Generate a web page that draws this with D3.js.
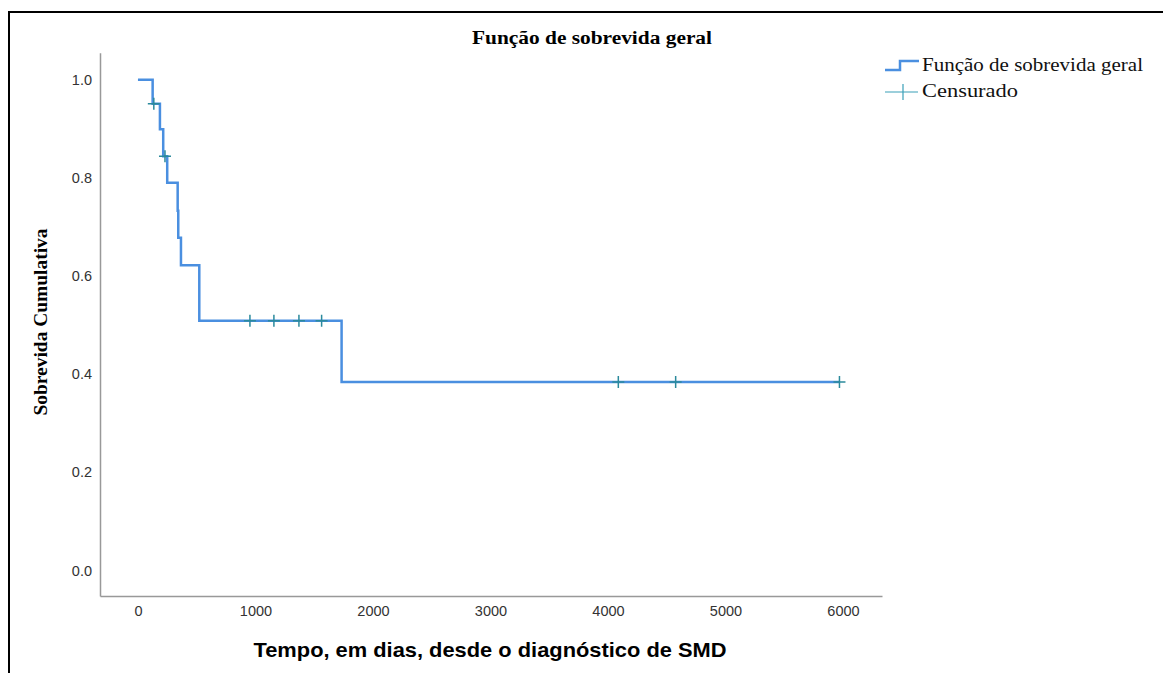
<!DOCTYPE html>
<html>
<head>
<meta charset="utf-8">
<script src="https://cdn.jsdelivr.net/npm/d3@7"></script>
<style>
  body { margin: 0; background: #fff; }
  svg { display: block; }
</style>
</head>
<body>
<svg id="chart" width="1163" height="673"></svg>
<script>
// Kaplan-Meier steps
const eventTimes = [0, 125, 187, 215, 249, 338, 343, 366, 522, 1733];
const survival = [1.0, 0.951, 0.899, 0.844, 0.79, 0.733, 0.678, 0.622, 0.509, 0.384];
const lastTime = 5970;
const censorTimes = [135, 230, 953, 1157, 1370, 1563, 4088, 4576, 5970];
const xTicks = [0, 1000, 2000, 3000, 4000, 5000, 6000];
const yTicks = [0.0, 0.2, 0.4, 0.6, 0.8, 1.0];

const svg = d3.select("#chart");
const lineColor = "#4a8fe0";
const censorColor = "#2b8a9c";
const serif = "'Liberation Serif', 'Times New Roman', serif";
const sans = "'Liberation Sans', Arial, sans-serif";

// frame
svg.append("path")
  .attr("d", "M9,673 L9,12 L1163,12")
  .attr("fill", "none")
  .attr("stroke", "#000")
  .attr("stroke-width", 2);

const x = d3.scaleLinear().domain([-323, 6332]).range([100, 882]);
const y = d3.scaleLinear().domain([-0.052, 1.055]).range([596, 52.7]);

const xAxis = svg.append("g")
  .attr("transform", "translate(0,596)")
  .call(d3.axisBottom(x).tickValues(xTicks).tickSize(0).tickPadding(10).tickFormat(d3.format("d")));
const yAxis = svg.append("g")
  .attr("transform", "translate(100,0)")
  .call(d3.axisLeft(y).tickValues(yTicks).tickSize(0).tickPadding(8).tickFormat(d3.format(".1f")));

[xAxis, yAxis].forEach((g) => {
  g.select(".domain").attr("stroke", "#999").attr("stroke-width", 1.5);
  g.selectAll("text")
    .attr("fill", "#333")
    .style("font-family", sans)
    .style("font-size", "14.5px");
});

// step curve
const pts = eventTimes.map((t, i) => [t, survival[i]]);
pts.push([lastTime, survival[survival.length - 1]]);

svg.append("path")
  .datum(pts)
  .attr("fill", "none")
  .attr("stroke", lineColor)
  .attr("stroke-width", 2.5)
  .attr("d", d3.line().x((d) => x(d[0])).y((d) => y(d[1])).curve(d3.curveStepAfter));

function survAt(t) {
  let s = 1;
  eventTimes.forEach((e, i) => { if (e <= t) s = survival[i]; });
  return s;
}

const cs = 6;
svg.append("g").selectAll("path")
  .data(censorTimes)
  .join("path")
  .attr("d", (t) => {
    const cx = x(t), cy = y(survAt(t));
    return `M${cx - cs},${cy}H${cx + cs}M${cx},${cy - cs}V${cy + cs}`;
  })
  .attr("stroke", censorColor)
  .attr("stroke-width", 1.5)
  .attr("fill", "none");

// title
svg.append("text")
  .attr("x", 592).attr("y", 44)
  .attr("text-anchor", "middle")
  .attr("textLength", 240)
  .attr("lengthAdjust", "spacingAndGlyphs")
  .style("font-family", serif)
  .style("font-weight", "bold")
  .style("font-size", "18px")
  .text("Função de sobrevida geral");

// axis titles
svg.append("text")
  .attr("transform", "translate(47,322) rotate(-90)")
  .attr("text-anchor", "middle")
  .attr("textLength", 187)
  .attr("lengthAdjust", "spacingAndGlyphs")
  .style("font-family", serif)
  .style("font-weight", "bold")
  .style("font-size", "18px")
  .text("Sobrevida Cumulativa");

svg.append("text")
  .attr("x", 490).attr("y", 657)
  .attr("text-anchor", "middle")
  .attr("textLength", 473)
  .attr("lengthAdjust", "spacingAndGlyphs")
  .style("font-family", sans)
  .style("font-weight", "bold")
  .style("font-size", "21px")
  .text("Tempo, em dias, desde o diagnóstico de SMD");

// legend
const leg = svg.append("g");
leg.append("path")
  .attr("d", "M885,70H900V61H919")
  .attr("fill", "none")
  .attr("stroke", lineColor)
  .attr("stroke-width", 2.5);
leg.append("path")
  .attr("d", "M885,92H918M903,84V100")
  .attr("fill", "none")
  .attr("stroke", "#3aa0b8")
  .attr("stroke-width", 1.2);
const legendLabels = ["Função de sobrevida geral", "Censurado"];
const legendWidths = [221, 96];
leg.selectAll("text.lg")
  .data(legendLabels)
  .join("text")
  .attr("class", "lg")
  .attr("x", 922)
  .attr("y", (d, i) => 71 + i * 26)
  .attr("textLength", (d, i) => legendWidths[i])
  .attr("lengthAdjust", "spacingAndGlyphs")
  .style("font-family", serif)
  .style("font-size", "19px")
  .attr("fill", "#111")
  .text((d) => d);
</script>
</body>
</html>
